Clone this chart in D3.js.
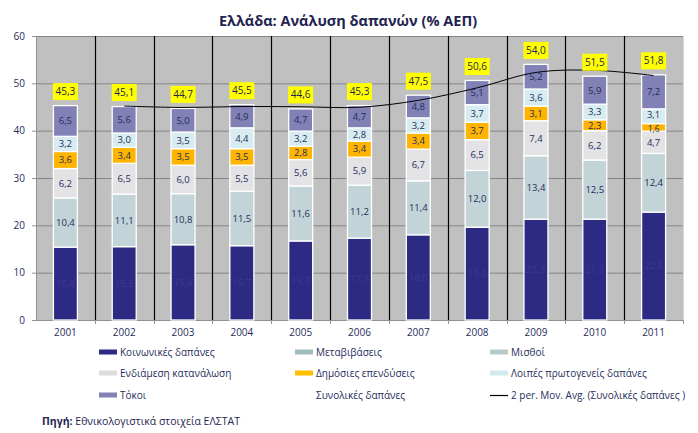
<!DOCTYPE html>
<html><head><meta charset="utf-8">
<script src="https://cdn.jsdelivr.net/npm/d3@7"></script>
<style>body{margin:0;background:#fff}svg{display:block}</style>
</head><body>
<svg id="c" width="698" height="433"></svg>
<script>
const years = ["2001","2002","2003","2004","2005","2006","2007","2008","2009","2010","2011"];
const koinonikes = [15.4,15.5,15.9,15.7,16.7,17.3,18.0,19.6,21.3,21.3,22.8];
const misthoi    = [10.4,11.1,10.8,11.5,11.6,11.2,11.4,12.0,13.4,12.5,12.4];
const endiamesi  = [6.2,6.5,6.0,5.5,5.6,5.9,6.7,6.5,7.4,6.2,4.7];
const ependyseis = [3.6,3.4,3.5,3.5,2.8,3.4,3.4,3.7,3.1,2.3,1.6];
const loipes     = [3.2,3.0,3.5,4.4,3.2,2.8,3.2,3.7,3.6,3.3,3.1];
const tokoi      = [6.5,5.6,5.0,4.9,4.7,4.7,4.8,5.1,5.2,5.9,7.2];
const synolikes  = [45.3,45.1,44.7,45.5,44.6,45.3,47.5,50.6,54.0,51.5,51.8];
const movAvg     = [null,45.2,44.9,45.1,45.05,44.95,46.4,49.05,52.3,52.75,51.65];
const yTicks = [0,10,20,30,40,50,60];

const stackSeries = [
  {name:"Κοινωνικές δαπάνες", values:koinonikes, color:"#2d2a84", label:"#3c3990"},
  {name:"Μισθοί", values:misthoi, color:"#c2d4d7", label:"#1f2d5c"},
  {name:"Ενδιάμεση κατανάλωση", values:endiamesi, color:"#e3e3e6", label:"#1f2d5c"},
  {name:"Δημόσιες επενδύσεις", values:ependyseis, color:"#ffb400", label:"#1f2d5c"},
  {name:"Λοιπές πρωτογενείς δαπάνες", values:loipes, color:"#d7ecf1", label:"#1f2d5c"},
  {name:"Τόκοι", values:tokoi, color:"#8181b6", label:"#1f2d5c"}
];
const legendItems = [
  {name:"Κοινωνικές δαπάνες", type:"rect", color:"#2d2a84"},
  {name:"Μεταβιβάσεις", type:"rect", color:"#9fbdbd"},
  {name:"Μισθοί", type:"rect", color:"#b9cacb"},
  {name:"Ενδιάμεση κατανάλωση", type:"rect", color:"#dcdcdc"},
  {name:"Δημόσιες επενδύσεις", type:"rect", color:"#ffc000"},
  {name:"Λοιπές πρωτογενείς δαπάνες", type:"rect", color:"#d4eaee"},
  {name:"Τόκοι", type:"rect", color:"#8181b6"},
  {name:"Συνολικές δαπάνες", type:"none"},
  {name:"2 per. Mov. Avg. (Συνολικές δαπάνες )", type:"line", color:"#000"}
];

const FONT = "'Open Sans', 'Noto Sans', sans-serif";
const TXT = "#1f2d5c";
const svg = d3.select("#c");
const m = {l:36, r:683, t:36, b:320};

const x = d3.scaleBand().domain(years).range([m.l, m.r]).paddingInner(0).paddingOuter(0);
const y = d3.scaleLinear().domain([0,60]).range([m.b, m.t]);
const barW = 24;

// title
svg.append("text").attr("x",348).attr("y",26).attr("text-anchor","middle")
  .attr("font-family",FONT).attr("font-weight","bold").attr("font-size",14.5)
  .attr("fill","#1f2550").text("Ελλάδα: Ανάλυση δαπανών (% ΑΕΠ)");

// plot background
svg.append("rect").attr("x",m.l).attr("y",m.t).attr("width",m.r-m.l).attr("height",m.b-m.t).attr("fill","#c0c0c0");

// horizontal gridlines
svg.append("g").selectAll("line").data(yTicks.filter(d=>d>0)).join("line")
  .attr("x1",m.l).attr("x2",m.r).attr("y1",d=>y(d)+0.5).attr("y2",d=>y(d)+0.5)
  .attr("stroke","#858585").attr("stroke-width",1);

// vertical black separators
svg.append("g").selectAll("line").data(years.slice(1)).join("line")
  .attr("x1",d=>Math.round(x(d))+0.5).attr("x2",d=>Math.round(x(d))+0.5)
  .attr("y1",m.t).attr("y2",m.b).attr("stroke","#000").attr("stroke-width",1.2);

// right border
svg.append("line").attr("x1",m.r+0.5).attr("x2",m.r+0.5).attr("y1",m.t).attr("y2",m.b).attr("stroke","#d8d8d8");

// y axis
const yAxis = d3.axisLeft(y).tickValues(yTicks).tickSize(4).tickFormat(d3.format("d"));
const gy = svg.append("g").attr("transform",`translate(${m.l},0)`).call(yAxis);
gy.select(".domain").attr("stroke","#909090");
gy.selectAll(".tick line").attr("stroke","#909090");
gy.selectAll(".tick text").attr("font-family",FONT).attr("font-size",10).attr("fill",TXT).attr("dx",-4);

// x axis
const xAxis = d3.axisBottom(x).tickSize(0).tickPadding(9);
const gx = svg.append("g").attr("transform",`translate(0,${m.b})`).call(xAxis);
gx.select(".domain").attr("stroke","#909090");
gx.selectAll(".tick text").attr("font-family",FONT).attr("font-size",10).attr("fill",TXT);
gx.append("g").selectAll("line").data(years.slice(1).concat(["__end"])).join("line")
  .attr("x1",d=>d==="__end"?m.r+0.5:Math.round(x(d))+0.5).attr("x2",d=>d==="__end"?m.r+0.5:Math.round(x(d))+0.5)
  .attr("y1",0).attr("y2",4).attr("stroke","#909090");

// stacked bars
const stacked = years.map((yr,i)=>{
  let base = 0;
  return stackSeries.map((s,k)=>{
    const v = s.values[i];
    const seg = {yr, i, k, y0:base, y1:base+v, v, s};
    base += v;
    return seg;
  });
}).flat();

const gBars = svg.append("g");
gBars.selectAll("rect").data(stacked).join("rect")
  .attr("x",d=>x(d.yr)+x.bandwidth()/2-barW/2)
  .attr("width",barW)
  .attr("y",d=>y(d.y1))
  .attr("height",d=>y(d.y0)-y(d.y1))
  .attr("fill",d=>d.s.color)
  .attr("stroke","#fff").attr("stroke-width",1.3);

// moving average line
const lineData = years.map((yr,i)=>({yr, v:movAvg[i]})).filter(d=>d.v!=null);
svg.append("path").datum(lineData)
  .attr("d", d3.line().x(d=>x(d.yr)+x.bandwidth()/2).y(d=>y(d.v)).curve(d3.curveCatmullRom.alpha(0.5)))
  .attr("fill","none").attr("stroke","#000").attr("stroke-width",1);

// segment labels (tiny segments nudged slightly so labels do not collide)
const fmt = v => v.toFixed(1).replace(".", ",");
const nudge = d => {
  if (d.v < 2) return 1.5;
  const below = stackSeries[d.k-1];
  if (below && below.values[d.i] < 2) return -1.2;
  return 0;
};
svg.append("g").selectAll("text").data(stacked).join("text")
  .attr("x",d=>x(d.yr)+x.bandwidth()/2)
  .attr("y",d=>(y(d.y0)+y(d.y1))/2 + nudge(d))
  .attr("dy","0.35em").attr("text-anchor","middle")
  .attr("font-family",FONT).attr("font-size",d=>d.v<2?8.5:9.5).attr("fill",d=>d.s.label)
  .text(d=>fmt(d.v));

// total labels with yellow boxes
const gT = svg.append("g").selectAll("g").data(years.map((yr,i)=>({yr, v:synolikes[i]}))).join("g")
  .attr("transform",d=>`translate(${x(d.yr)+x.bandwidth()/2},${y(d.v)-14})`);
gT.append("rect").attr("x",-12.5).attr("y",-8.5).attr("width",25).attr("height",17).attr("fill","#ffff00");
gT.append("text").attr("text-anchor","middle").attr("dy","0.35em")
  .attr("font-family",FONT).attr("font-size",10).attr("fill","#1f2550").text(d=>fmt(d.v));

// legend
const colX = [99, 295, 490];
const rowY = [352, 373, 395];
const gL = svg.append("g").selectAll("g").data(legendItems).join("g")
  .attr("transform",(d,i)=>`translate(${colX[i%3]},${rowY[Math.floor(i/3)]})`);
gL.filter(d=>d.type==="rect").append("rect").attr("x",0).attr("y",-2.5).attr("width",18).attr("height",5).attr("fill",d=>d.color);
gL.filter(d=>d.type==="line").append("line").attr("x1",0).attr("x2",18).attr("y1",0.5).attr("y2",0.5).attr("stroke",d=>d.color).attr("stroke-width",1.2);
gL.append("text").attr("x",21).attr("dy","0.35em").attr("font-family",FONT).attr("font-size",10).attr("fill",TXT).text(d=>d.name);

// source
const src = svg.append("text").attr("x",42).attr("y",421).attr("dy","0.35em").attr("font-family",FONT).attr("font-size",10.5).attr("fill","#1f2550");
src.append("tspan").attr("font-weight","bold").text("Πηγή:");
src.append("tspan").text("  Εθνικολογιστικά στοιχεία ΕΛΣΤΑΤ");
</script>
</body></html>
